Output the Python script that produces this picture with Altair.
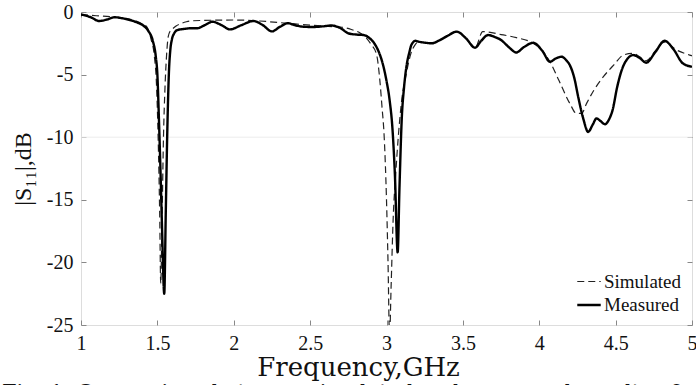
import altair as alt
import pandas as pd

# ---- data ----
meas_f = [1.00, 1.06, 1.12, 1.17, 1.22, 1.27, 1.32, 1.37, 1.41, 1.44, 1.47, 1.49, 1.50, 1.51, 1.52,
          1.53, 1.545, 1.555, 1.565, 1.575, 1.585, 1.595, 1.61, 1.63, 1.67, 1.72, 1.76, 1.81, 1.86,
          1.92, 1.975, 2.05, 2.13, 2.19, 2.25, 2.30, 2.355, 2.40, 2.45, 2.52, 2.58, 2.64, 2.70, 2.75,
          2.80, 2.85, 2.89, 2.92, 2.95, 2.97, 3.00, 3.02, 3.04, 3.055, 3.073, 3.085, 3.10, 3.115,
          3.13, 3.15, 3.164, 3.19, 3.21, 3.25, 3.295, 3.35, 3.40, 3.46, 3.52, 3.58, 3.62, 3.665,
          3.71, 3.75, 3.80, 3.85, 3.90, 3.96, 4.02, 4.07, 4.11, 4.146, 4.18, 4.20, 4.23, 4.255,
          4.29, 4.32, 4.35, 4.375, 4.40, 4.43, 4.46, 4.48, 4.51, 4.54, 4.58, 4.615, 4.66, 4.70,
          4.76, 4.82, 4.88, 4.94, 5.00]
meas_db = [-0.2, -0.4, -0.72, -0.6, -0.42, -0.5, -0.64, -0.85, -1.1, -1.5, -2.3, -3.6, -5.0, -8.5,
           -12.5, -17.0, -22.5, -16.0, -9.5, -5.0, -3.0, -2.2, -1.7, -1.45, -1.36, -1.3, -1.3,
           -1.05, -0.78, -1.05, -1.39, -1.05, -0.72, -1.05, -1.55, -1.2, -0.9, -1.05, -1.17, -1.2,
           -1.15, -1.08, -1.3, -1.7, -1.8, -1.84, -2.1, -2.5, -3.2, -3.9, -5.5, -7.0, -9.5, -13.0,
           -19.2, -14.0, -8.5, -6.0, -4.4, -3.2, -2.6, -2.3, -2.37, -2.45, -2.5, -2.24, -1.9,
           -1.57, -2.1, -2.85, -2.3, -1.84, -2.0, -2.24, -2.8, -3.23, -2.8, -2.46, -3.1, -3.97,
           -3.7, -3.57, -3.9, -4.24, -5.3, -6.78, -8.6, -9.58, -9.0, -8.5, -8.7, -8.96, -8.5,
           -7.84, -6.0, -4.64, -3.7, -3.44, -3.7, -4.05, -3.2, -2.3, -3.0, -4.1, -4.37]

sim_f = [1.00, 1.10, 1.19, 1.27, 1.34, 1.40, 1.43, 1.46, 1.48, 1.495, 1.505, 1.515, 1.522, 1.53,
         1.54, 1.55, 1.56, 1.571, 1.585, 1.604, 1.625, 1.648, 1.69, 1.73, 2.00, 2.17, 2.35, 2.50,
         2.65, 2.70, 2.77, 2.83, 2.87, 2.90, 2.935, 2.956, 2.97, 2.985, 3.00, 3.01, 3.02, 3.03,
         3.044, 3.06, 3.077, 3.10, 3.13, 3.16, 3.186, 3.21, 3.25, 3.295, 3.35, 3.40, 3.46, 3.52,
         3.58, 3.63, 3.75, 3.85, 3.96, 4.02, 4.07, 4.13, 4.20, 4.244, 4.277, 4.31, 4.36, 4.42,
         4.49, 4.55, 4.615, 4.66, 4.70, 4.76, 4.82, 4.90, 4.985, 5.00]
sim_db = [-0.2, -0.3, -0.37, -0.48, -0.64, -0.95, -1.17, -2.24, -3.5, -6.0, -10.0, -16.0, -21.7,
          -17.0, -10.0, -6.0, -3.5, -1.97, -1.5, -1.3, -1.1, -0.96, -0.78, -0.7, -0.64, -0.72,
          -0.9, -1.05, -1.17, -1.2, -1.4, -1.7, -2.1, -2.6, -3.4, -5.4, -7.5, -10.0, -15.0, -20.0,
          -26.0, -22.0, -16.4, -13.0, -10.0, -7.0, -4.9, -3.3, -2.64, -2.37, -2.45, -2.5, -2.24,
          -1.9, -1.57, -2.1, -2.85, -1.57, -1.8, -2.05, -2.5, -3.1, -3.97, -5.5, -7.3, -8.1, -8.1,
          -7.3, -6.2, -5.17, -4.2, -3.44, -3.3, -3.6, -3.9, -3.1, -2.4, -3.04, -3.44, -3.5]

series_names = ["Simulated", "Measured"]
x_ticks = [1, 1.5, 2, 2.5, 3, 3.5, 4, 4.5, 5]
y_ticks = [0, -5, -10, -15, -20, -25]
grid_lines = [-10]
caption = "Fig. 1. Comparison between simulated and measured results of"

df = pd.concat([
    pd.DataFrame({"freq": sim_f, "s11": sim_db, "series": "Simulated", "order": 0}),
    pd.DataFrame({"freq": meas_f, "s11": meas_db, "series": "Measured", "order": 1}),
])

FONT = "Liberation Serif"
TFONT = "DejaVu Serif"
xscale = alt.Scale(domain=[1, 5], nice=False, zero=False)
yscale = alt.Scale(domain=[-25, 0], nice=False, zero=False)
LBL = "'' + datum.value"

grid = alt.Chart(pd.DataFrame({"g": grid_lines})).mark_rule(color="#ececec", strokeWidth=1).encode(
    y=alt.Y("g:Q", scale=yscale, axis=None)
)

lines = alt.Chart(df).mark_line(interpolate="monotone", clip=True).encode(
    x=alt.X("freq:Q", scale=xscale,
            axis=alt.Axis(values=x_ticks, title="Frequency,GHz", domain=False, offset=-5,
                          tickSize=5, tickColor="#888", labelFont=FONT, labelFontSize=20,
                          labelColor="#111", labelPadding=8, labelExpr=LBL, titleFont=TFONT,
                          titleFontSize=26, titleFontWeight="normal", titleColor="#111",
                          titlePadding=1, titleX=277, titleAlign="center",
                          grid=False, labelFlush=False)),
    y=alt.Y("s11:Q", scale=yscale,
            axis=alt.Axis(values=y_ticks, title="|S₁₁|,dB", domain=False, offset=-5,
                          tickSize=5, tickColor="#888", labelFont=FONT, labelFontSize=20,
                          labelColor="#111", labelPadding=8, labelExpr=LBL, titleFont=FONT,
                          titleFontSize=24, titleFontWeight="normal", titleColor="#111",
                          titlePadding=11, grid=False, labelFlush=False)),
    color=alt.Color("series:N", scale=alt.Scale(domain=series_names, range=["#222222", "#000000"]),
                    legend=alt.Legend(title=None, orient="bottom-right", offset=10,
                                      symbolType="stroke", symbolSize=550, labelFont=FONT,
                                      labelFontSize=19, labelColor="#111", rowPadding=0,
                                      labelOffset=2, symbolStrokeColor="#000")),
    strokeDash=alt.StrokeDash("series:N", scale=alt.Scale(domain=series_names,
                                                          range=[[7, 4], [1, 0]]), legend=None),
    strokeWidth=alt.StrokeWidth("series:N", scale=alt.Scale(domain=series_names, range=[1.2, 2.4]),
                                legend=None),
    order=alt.Order("order:Q"),
)

frame = alt.Chart(df).mark_line(opacity=0).encode(
    x=alt.X("freq:Q", scale=xscale,
            axis=alt.Axis(orient="top", values=x_ticks, labels=False, title=None, domain=False,
                          offset=-5, tickSize=5, tickColor="#888", grid=False)),
    y=alt.Y("s11:Q", scale=yscale,
            axis=alt.Axis(orient="right", values=y_ticks, labels=False, title=None, domain=False,
                          offset=-5, tickSize=5, tickColor="#888", grid=False)),
)

cap = alt.Chart(pd.DataFrame({"t": [caption]})).mark_text(
    font=TFONT, fontSize=21, align="left", baseline="top", color="#111"
).encode(text="t:N", x=alt.value(-79), y=alt.value(370))

chart = alt.layer(grid, lines, frame, cap).resolve_axis(
    x="independent", y="independent"
).resolve_legend(color="shared").properties(
    width=611, height=313,
    autosize=alt.AutoSizeParams(type="none"),
    padding={"left": 81, "top": 12, "right": 4, "bottom": 60},
).configure_view(stroke="#888", strokeWidth=1).configure(background="white")

chart.save("out.html", embed_options={"renderer": "svg", "actions": False})
